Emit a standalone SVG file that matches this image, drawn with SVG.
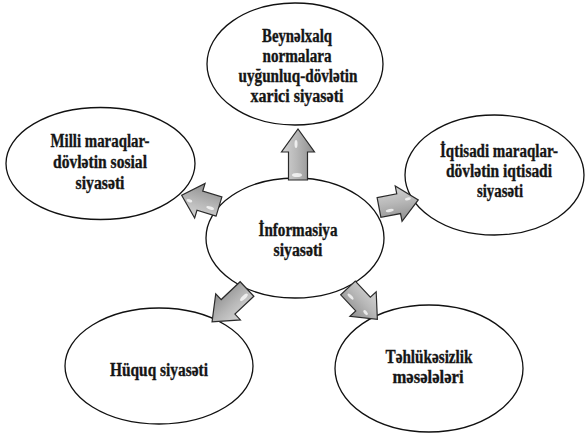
<svg xmlns="http://www.w3.org/2000/svg" width="586" height="438" viewBox="0 0 586 438">
<defs>
<style>
.node ellipse{fill:#fff;stroke:#111;stroke-width:1.3}
.lbl{font-family:"Liberation Serif","Times New Roman",serif;font-weight:bold;font-size:18px;fill:#151515;stroke:#151515;stroke-width:0.35;text-anchor:middle}
.arr{fill:url(#ag);stroke:#2a2a2a;stroke-width:1.2;stroke-linejoin:miter}
.hl{fill:#fff;opacity:0.75}
</style>
<linearGradient id="ag" x1="0" y1="0" x2="0" y2="1">
<stop offset="0" stop-color="#d4d4d4"/>
<stop offset="0.45" stop-color="#b8b8b8"/>
<stop offset="1" stop-color="#8e8e8e"/>
</linearGradient>
</defs>
<rect width="586" height="438" fill="#fff"/>

<g id="node-top" class="node">
<ellipse cx="295" cy="64" rx="88" ry="61"/>
<text class="lbl" x="297" y="42" textLength="70" lengthAdjust="spacingAndGlyphs">Beynəlxalq</text>
<text class="lbl" x="297" y="62" textLength="69" lengthAdjust="spacingAndGlyphs">normalara</text>
<text class="lbl" x="298" y="82" textLength="119" lengthAdjust="spacingAndGlyphs">uyğunluq-dövlətin</text>
<text class="lbl" x="297" y="102" textLength="93" lengthAdjust="spacingAndGlyphs">xarici siyasəti</text>
</g>

<g id="node-left" class="node">
<ellipse cx="100.5" cy="163.5" rx="94.5" ry="56"/>
<text class="lbl" x="100" y="147" textLength="99" lengthAdjust="spacingAndGlyphs">Milli maraqlar-</text>
<text class="lbl" x="100" y="168" textLength="94" lengthAdjust="spacingAndGlyphs">dövlətin sosial</text>
<text class="lbl" x="100" y="189" textLength="49" lengthAdjust="spacingAndGlyphs">siyasəti</text>
</g>

<g id="node-right" class="node">
<ellipse cx="494.5" cy="175" rx="89.5" ry="60"/>
<text class="lbl" x="499" y="157" textLength="118" lengthAdjust="spacingAndGlyphs">İqtisadi maraqlar-</text>
<text class="lbl" x="499" y="177" textLength="106" lengthAdjust="spacingAndGlyphs">dövlətin iqtisadi</text>
<text class="lbl" x="500" y="197" textLength="46" lengthAdjust="spacingAndGlyphs">siyasəti</text>
</g>

<g id="node-center" class="node">
<ellipse cx="295" cy="238" rx="89" ry="60"/>
<text class="lbl" x="298" y="236" textLength="79" lengthAdjust="spacingAndGlyphs">İnformasiya</text>
<text class="lbl" x="298" y="256" textLength="49" lengthAdjust="spacingAndGlyphs">siyasəti</text>
</g>

<g id="node-bottom-left" class="node">
<ellipse cx="159" cy="366" rx="94" ry="58"/>
<text class="lbl" x="159" y="376" textLength="98" lengthAdjust="spacingAndGlyphs">Hüquq siyasəti</text>
</g>

<g id="node-bottom-right" class="node">
<ellipse cx="429" cy="368.5" rx="94" ry="63.5"/>
<text class="lbl" x="429" y="363" textLength="87" lengthAdjust="spacingAndGlyphs">Təhlükəsizlik</text>
<text class="lbl" x="428" y="383" textLength="71" lengthAdjust="spacingAndGlyphs">məsələləri</text>
</g>

<g id="connectors">
<g transform="translate(298,180) rotate(-90)">
<path class="arr" d="M0,-9.5 L28,-9.5 L28,-16.5 L51,0 L28,16.5 L28,9.5 L0,9.5 Z"/>
<ellipse class="hl" cx="5" cy="-1" rx="2" ry="5"/>
<ellipse class="hl" cx="36" cy="-2" rx="4" ry="1.5"/>
</g>
<g transform="translate(219,206.5) rotate(196.8)">
<path class="arr" d="M0,-10 L20,-10 L20,-18 L39,0 L20,18 L20,10 L0,10 Z"/>
<ellipse class="hl" cx="8" cy="-4" rx="4" ry="1.5"/>
<ellipse class="hl" cx="30" cy="-3" rx="3" ry="1.5"/>
</g>
<g transform="translate(379,207.5) rotate(-10.9)">
<path class="arr" d="M0,-10 L20,-10 L20,-18 L40,0 L20,18 L20,10 L0,10 Z"/>
<ellipse class="hl" cx="10" cy="5" rx="4" ry="1.5"/>
<ellipse class="hl" cx="30" cy="-3" rx="3" ry="1.5"/>
</g>
<g transform="translate(247,289) rotate(136.7)">
<path class="arr" d="M0,-10 L26,-10 L26,-18 L48,0 L26,18 L26,10 L0,10 Z"/>
<ellipse class="hl" cx="8" cy="-4" rx="5" ry="1.8"/>
</g>
<g transform="translate(348,288) rotate(46.9)">
<path class="arr" d="M0,-10 L22,-10 L22,-18 L43,0 L22,18 L22,10 L0,10 Z"/>
<ellipse class="hl" cx="8" cy="4" rx="4" ry="1.5"/>
<ellipse class="hl" cx="30" cy="4" rx="3" ry="1.5"/>
</g>
</g>
</svg>
